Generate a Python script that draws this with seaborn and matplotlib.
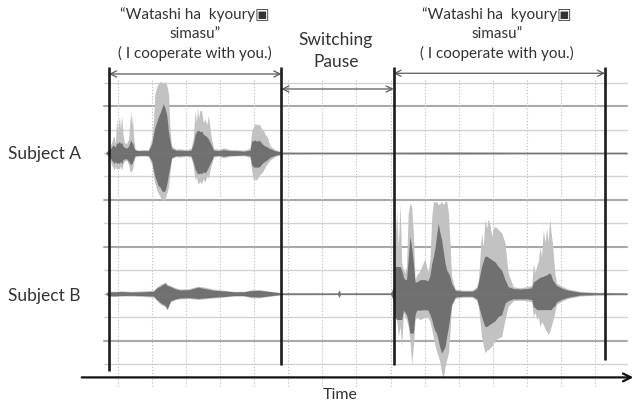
import numpy as np
import pandas as pd
import matplotlib
matplotlib.use("Agg")
import matplotlib.pyplot as plt
import seaborn as sns

# ---------------- data (time in grid units, amplitude in grid units) ----------------
subjects = ["Subject A", "Subject B"]
channel_centers = [3.0, -3.0]
utterance_label = ["\u201cWatashi ha  kyoury\u25a3", "simasu\u201d", "( I cooperate with you.)"]
pause_label = ["Switching", "Pause"]
xlabel = "Time"

segment_bounds = [-0.255, 4.80, 8.09, 14.29]
bound_bottoms = [-6.30, -6.04, -6.04, -5.83]

A_t = [-0.34, -0.25, -0.18, -0.13, -0.10, -0.07, -0.03, 0.00, 0.05, 0.08, 0.12, 0.15, 0.19, 0.26,
       0.32, 0.36, 0.38, 0.41, 0.43, 0.47, 0.51, 0.60, 0.75, 0.90, 1.00, 1.05, 1.09, 1.14, 1.19,
       1.24, 1.29, 1.34, 1.39, 1.44, 1.49, 1.53, 1.58, 1.70, 1.83, 2.02, 2.15, 2.22, 2.27, 2.31,
       2.34, 2.37, 2.41, 2.46, 2.51, 2.56, 2.61, 2.66, 2.71, 2.76, 2.81, 2.95, 3.10, 3.30, 3.49,
       3.70, 3.88, 3.93, 3.98, 4.03, 4.08, 4.13, 4.18, 4.23, 4.27, 4.32, 4.39, 4.47, 4.61, 4.76,
       4.81, 6.00, 8.00, 10.00, 12.00, 14.93]
A_light_up = [0.05, 0.20, 0.45, 0.70, 0.68, 0.40, 1.46, 0.90, 1.56, 1.00, 1.60, 0.90, 0.45, 0.40,
              0.60, 1.40, 1.82, 1.20, 1.60, 0.60, 0.18, 0.12, 0.15, 0.14, 0.60, 1.40, 2.53, 2.80, 2.96,
              3.03, 3.03, 2.95, 3.03, 2.90, 2.53, 1.10, 0.30, 0.17, 0.18, 0.15, 0.20, 0.70, 1.82, 1.30,
              1.96, 1.50, 1.80, 1.82, 1.30, 1.46, 1.20, 1.60, 1.00, 0.54, 0.20, 0.16, 0.22, 0.15, 0.14,
              0.12, 0.20, 0.97, 1.10, 1.25, 1.20, 1.25, 1.15, 1.00, 0.97, 0.80, 0.68, 0.30, 0.15, 0.08,
              0.05, 0.04, 0.04, 0.05, 0.04, 0.04]
A_light_lo = [-0.05, -0.20, -0.50, -0.65, -0.72, -0.55, -0.74, -0.60, -0.70, -0.55, -0.74, -0.50, -0.35, -0.30,
              -0.50, -0.80, -0.81, -0.70, -0.75, -0.40, -0.15, -0.14, -0.12, -0.15, -0.50, -1.02, -1.30, -1.55, -1.73,
              -1.85, -2.02, -2.02, -1.95, -1.70, -1.45, -0.85, -0.25, -0.15, -0.17, -0.15, -0.18, -0.60, -1.17, -1.00,
              -1.25, -1.31, -1.20, -1.30, -1.10, -1.24, -1.00, -1.05, -0.70, -0.45, -0.18, -0.14, -0.20, -0.14, -0.12,
              -0.12, -0.20, -0.74, -1.17, -1.10, -1.15, -1.00, -0.90, -0.85, -0.75, -0.60, -0.45, -0.30, -0.15, -0.08,
              -0.05, -0.04, -0.04, -0.05, -0.04, -0.04]
A_dark_up = [0.04, 0.12, 0.25, 0.35, 0.30, 0.25, 0.45, 0.40, 0.50, 0.40, 0.45, 0.30, 0.25, 0.20,
             0.30, 0.45, 0.55, 0.45, 0.45, 0.25, 0.12, 0.10, 0.10, 0.10, 0.40, 0.82, 1.10, 1.30, 1.53,
             1.70, 1.90, 2.10, 1.90, 1.60, 0.90, 0.54, 0.20, 0.12, 0.12, 0.10, 0.12, 0.40, 0.80, 0.90,
             0.97, 0.97, 0.90, 0.95, 0.80, 0.75, 0.70, 0.60, 0.45, 0.30, 0.12, 0.10, 0.14, 0.10, 0.10,
             0.08, 0.12, 0.50, 0.54, 0.55, 0.50, 0.55, 0.50, 0.40, 0.35, 0.30, 0.25, 0.18, 0.10, 0.05,
             0.03, 0.03, 0.03, 0.035, 0.03, 0.03]
A_dark_lo = [-0.04, -0.12, -0.30, -0.40, -0.45, -0.35, -0.45, -0.40, -0.45, -0.35, -0.45, -0.30, -0.25, -0.25,
             -0.35, -0.45, -0.50, -0.45, -0.40, -0.25, -0.12, -0.10, -0.10, -0.10, -0.35, -0.74, -1.00, -1.20, -1.40,
             -1.45, -1.60, -1.66, -1.60, -1.31, -0.90, -0.60, -0.20, -0.12, -0.12, -0.10, -0.12, -0.40, -0.70, -0.80,
             -0.88, -0.88, -0.85, -0.88, -0.80, -0.85, -0.75, -0.60, -0.45, -0.30, -0.12, -0.10, -0.14, -0.10, -0.10,
             -0.08, -0.12, -0.50, -0.60, -0.60, -0.60, -0.60, -0.55, -0.45, -0.40, -0.35, -0.28, -0.18, -0.10, -0.05,
             -0.03, -0.03, -0.03, -0.035, -0.03, -0.03]

B_t = [-0.34, -0.25, -0.10, 0.10, 0.40, 0.75, 1.05, 1.15, 1.25, 1.39, 1.45, 1.55, 1.70, 1.83, 2.10,
       2.35, 2.55, 2.80, 3.10, 3.40, 3.70, 3.90, 4.15, 4.40, 4.80, 6.45, 6.49, 6.53, 8.00, 8.08,
       8.13, 8.18, 8.23, 8.28, 8.33, 8.38, 8.43, 8.47, 8.52, 8.57, 8.62, 8.67, 8.72, 8.77, 8.87,
       9.01, 9.10, 9.16, 9.21, 9.26, 9.31, 9.35, 9.40, 9.45, 9.50, 9.55, 9.60, 9.65, 9.70, 9.75,
       9.79, 9.90, 10.13, 10.40, 10.53, 10.58, 10.67, 10.72, 10.77, 10.82, 10.87, 10.92, 10.97, 11.02,
       11.07, 11.16, 11.26, 11.36, 11.45, 11.60, 11.80, 12.00, 12.14, 12.19, 12.24, 12.29, 12.34, 12.38,
       12.43, 12.48, 12.53, 12.58, 12.62, 12.67, 12.71, 12.75, 12.82, 12.87, 13.05, 13.21, 13.56, 14.00,
       14.93]
B_light_up = [0.05, 0.12, 0.10, 0.12, 0.10, 0.12, 0.15, 0.30, 0.40, 0.50, 0.40, 0.35, 0.25, 0.20, 0.22,
              0.32, 0.28, 0.20, 0.15, 0.10, 0.10, 0.16, 0.18, 0.12, 0.05, 0.04, 0.18, 0.04, 0.04, 0.30,
              2.00, 3.58, 2.00, 3.87, 1.30, 1.00, 0.88, 1.20, 3.44, 3.87, 3.72, 2.59, 0.60, 0.80, 1.00,
              1.50, 0.90, 1.50, 3.30, 3.94, 3.90, 3.94, 3.80, 3.85, 3.94, 3.80, 3.94, 3.94, 3.44, 2.00,
              0.74, 0.20, 0.15, 0.15, 0.30, 0.60, 2.60, 2.00, 3.16, 2.80, 3.23, 2.90, 2.45, 2.80,
              2.87, 2.73, 2.60, 2.16, 0.88, 0.30, 0.25, 0.30, 0.35, 1.30, 0.90, 1.20, 1.40, 2.00,
              1.60, 2.73, 2.20, 2.80, 2.20, 3.23, 2.60, 2.16, 0.88, 0.45, 0.30, 0.20, 0.10, 0.06,
              0.05]
B_light_lo = [-0.05, -0.12, -0.12, -0.10, -0.10, -0.12, -0.15, -0.30, -0.45, -0.55, -0.70, -0.35, -0.25, -0.22, -0.20,
              -0.25, -0.22, -0.18, -0.15, -0.10, -0.10, -0.16, -0.18, -0.12, -0.05, -0.04, -0.18, -0.04, -0.04, -0.30,
              -1.00, -1.10, -1.82, -1.40, -2.25, -0.80, -1.00, -1.10, -1.40, -1.96, -3.03, -2.25, -1.10, -1.00, -1.10,
              -1.00, -1.00, -1.20, -1.54, -1.90, -2.25, -2.45, -2.67, -2.90, -3.38, -3.60, -3.10, -2.80, -2.53, -1.54,
              -0.54, -0.20, -0.15, -0.15, -0.30, -0.54, -1.82, -2.20, -2.53, -2.40, -2.40, -2.30, -2.25, -2.10,
              -1.96, -1.90, -1.82, -1.10, -0.54, -0.30, -0.28, -0.30, -0.35, -0.97, -0.80, -1.10, -1.00, -1.40,
              -1.20, -1.30, -1.50, -1.60, -1.75, -1.60, -1.40, -1.20, -0.80, -0.45, -0.30, -0.20, -0.10, -0.06,
              -0.05]
B_dark_up = [0.04, 0.08, 0.08, 0.09, 0.07, 0.08, 0.10, 0.25, 0.32, 0.45, 0.35, 0.30, 0.20, 0.16, 0.17,
             0.28, 0.22, 0.15, 0.12, 0.08, 0.08, 0.13, 0.14, 0.10, 0.03, 0.03, 0.15, 0.03, 0.03, 0.20,
             1.16, 1.16, 1.16, 1.16, 1.00, 0.70, 0.60, 0.60, 1.50, 2.44, 2.00, 1.30, 0.50, 0.50, 0.60,
             0.60, 0.55, 0.80, 1.30, 1.60, 2.00, 2.50, 3.00, 2.60, 2.30, 1.80, 1.30, 1.00, 0.88, 0.70,
             0.45, 0.14, 0.11, 0.11, 0.22, 0.50, 1.16, 1.40, 1.60, 1.60, 1.55, 1.50, 1.45, 1.40,
             1.35, 1.16, 1.00, 0.60, 0.30, 0.22, 0.20, 0.22, 0.25, 0.50, 0.55, 0.60, 0.65, 0.70,
             0.72, 0.74, 0.78, 0.80, 0.85, 0.88, 0.80, 0.60, 0.45, 0.35, 0.22, 0.15, 0.06, 0.04,
             0.03]
B_dark_lo = [-0.04, -0.08, -0.09, -0.08, -0.07, -0.08, -0.10, -0.25, -0.38, -0.50, -0.64, -0.30, -0.22, -0.18, -0.17,
             -0.20, -0.18, -0.15, -0.12, -0.08, -0.08, -0.13, -0.14, -0.10, -0.03, -0.03, -0.15, -0.03, -0.03, -0.20,
             -1.00, -1.10, -1.10, -1.10, -1.10, -0.70, -0.80, -0.90, -1.20, -1.68, -1.68, -1.68, -0.90, -0.70, -0.70,
             -0.68, -0.70, -0.90, -1.10, -1.40, -1.60, -1.68, -2.00, -2.30, -2.53, -2.40, -2.25, -1.80, -1.40, -0.90,
             -0.45, -0.14, -0.11, -0.11, -0.22, -0.50, -0.97, -1.20, -1.40, -1.40, -1.35, -1.30, -1.25, -1.20,
             -1.15, -0.97, -0.90, -0.40, -0.30, -0.22, -0.22, -0.22, -0.25, -0.55, -0.60, -0.68, -0.68, -0.68,
             -0.68, -0.68, -0.68, -0.68, -0.68, -0.68, -0.68, -0.60, -0.50, -0.35, -0.22, -0.15, -0.06, -0.04,
             -0.03]

grid_ticks_x = list(range(0, 15))
grid_levels = [6, 5, 4, 3, 2, 1, 0, -1, -2, -3, -4, -5, -6]
dark_levels = [5, 1, -1, -5]

# ---------------- figure ----------------
sns.set_theme(style="white")
plt.rcParams['font.family'] = ['Lato', 'DejaVu Sans']

fig = plt.figure(figsize=(6.34, 4.04), dpi=100)
ax = fig.add_axes([0, 0, 1, 1])
ax.set_xlim(-3.452, 15.141)
ax.set_ylim(-7.704, 9.525)
ax.axis("off")

LIGHT = "#c2c2c2"
DARK = "#707070"

# horizontal grid
for lv in grid_levels:
    if lv in dark_levels:
        ax.plot([-0.40, 14.94], [lv, lv], color="#a9a9a9", lw=1.5, zorder=1)
    else:
        ax.plot([-0.40, 14.94], [lv, lv], color="#d2d2d2", lw=1.0, zorder=1)

# vertical dotted grid
for gx in grid_ticks_x:
    ax.plot([gx, gx], [6.11, -7.02], color="#c4c4c4", lw=0.8,
            linestyle=(0, (1.2, 1.6)), zorder=1)

# waveforms
channels = [
    (A_t, A_light_up, A_light_lo, A_dark_up, A_dark_lo),
    (B_t, B_light_up, B_light_lo, B_dark_up, B_dark_lo),
]
for c, (t, lu, ll, du, dl) in zip(channel_centers, channels):
    t = np.asarray(t)
    ax.fill_between(t, c + np.asarray(ll), c + np.asarray(lu), color=LIGHT, lw=0, zorder=2)
    ax.fill_between(t, c + np.asarray(dl), c + np.asarray(du), color=DARK, lw=0, zorder=3)
    df = pd.DataFrame({"t": t, "y": c + 0 * t})
    sns.lineplot(data=df, x="t", y="y", ax=ax, color="#777777", lw=0.6, zorder=3)

# segment boundaries
for xb, yb in zip(segment_bounds, bound_bottoms):
    ax.plot([xb, xb], [6.67, yb], color="#1c1c1c", lw=1.9, zorder=5, solid_capstyle="butt")

arrow_kw = dict(arrowstyle="<->", color="#5a5a5a", lw=0.9, mutation_scale=11,
                shrinkA=0, shrinkB=0)
ax.annotate("", xy=(segment_bounds[1], 6.37), xytext=(segment_bounds[0], 6.37), arrowprops=arrow_kw)
ax.annotate("", xy=(segment_bounds[2], 5.73), xytext=(segment_bounds[1], 5.73), arrowprops=arrow_kw)
ax.annotate("", xy=(segment_bounds[3], 6.40), xytext=(segment_bounds[2], 6.40), arrowprops=arrow_kw)

# time axis
ax.annotate("", xy=(15.12, -6.57), xytext=(-1.056, -6.57),
            arrowprops=dict(arrowstyle="->", color="#111111", lw=1.6, mutation_scale=14,
                            shrinkA=0, shrinkB=0))

# texts
tc = "#333333"
for xc in [2.27, 11.12]:
    for txt, yy in zip(utterance_label, [8.885, 8.075, 7.264]):
        ax.text(xc, yy, txt, ha="center", va="center", fontsize=11, color=tc)
ax.text(6.40, 7.82, pause_label[0], ha="center", va="center", fontsize=12.5, color=tc)
ax.text(6.40, 6.88, pause_label[1], ha="center", va="center", fontsize=12.5, color=tc)
for lab, c in zip(subjects, channel_centers):
    ax.text(-3.22, c - 0.05 if c > 0 else c - 0.1, lab, ha="left", va="center", fontsize=12.5, color=tc)
ax.text(6.52, -7.32, xlabel, ha="center", va="center", fontsize=11.5, color=tc)

fig.savefig("out.png", dpi=100)
